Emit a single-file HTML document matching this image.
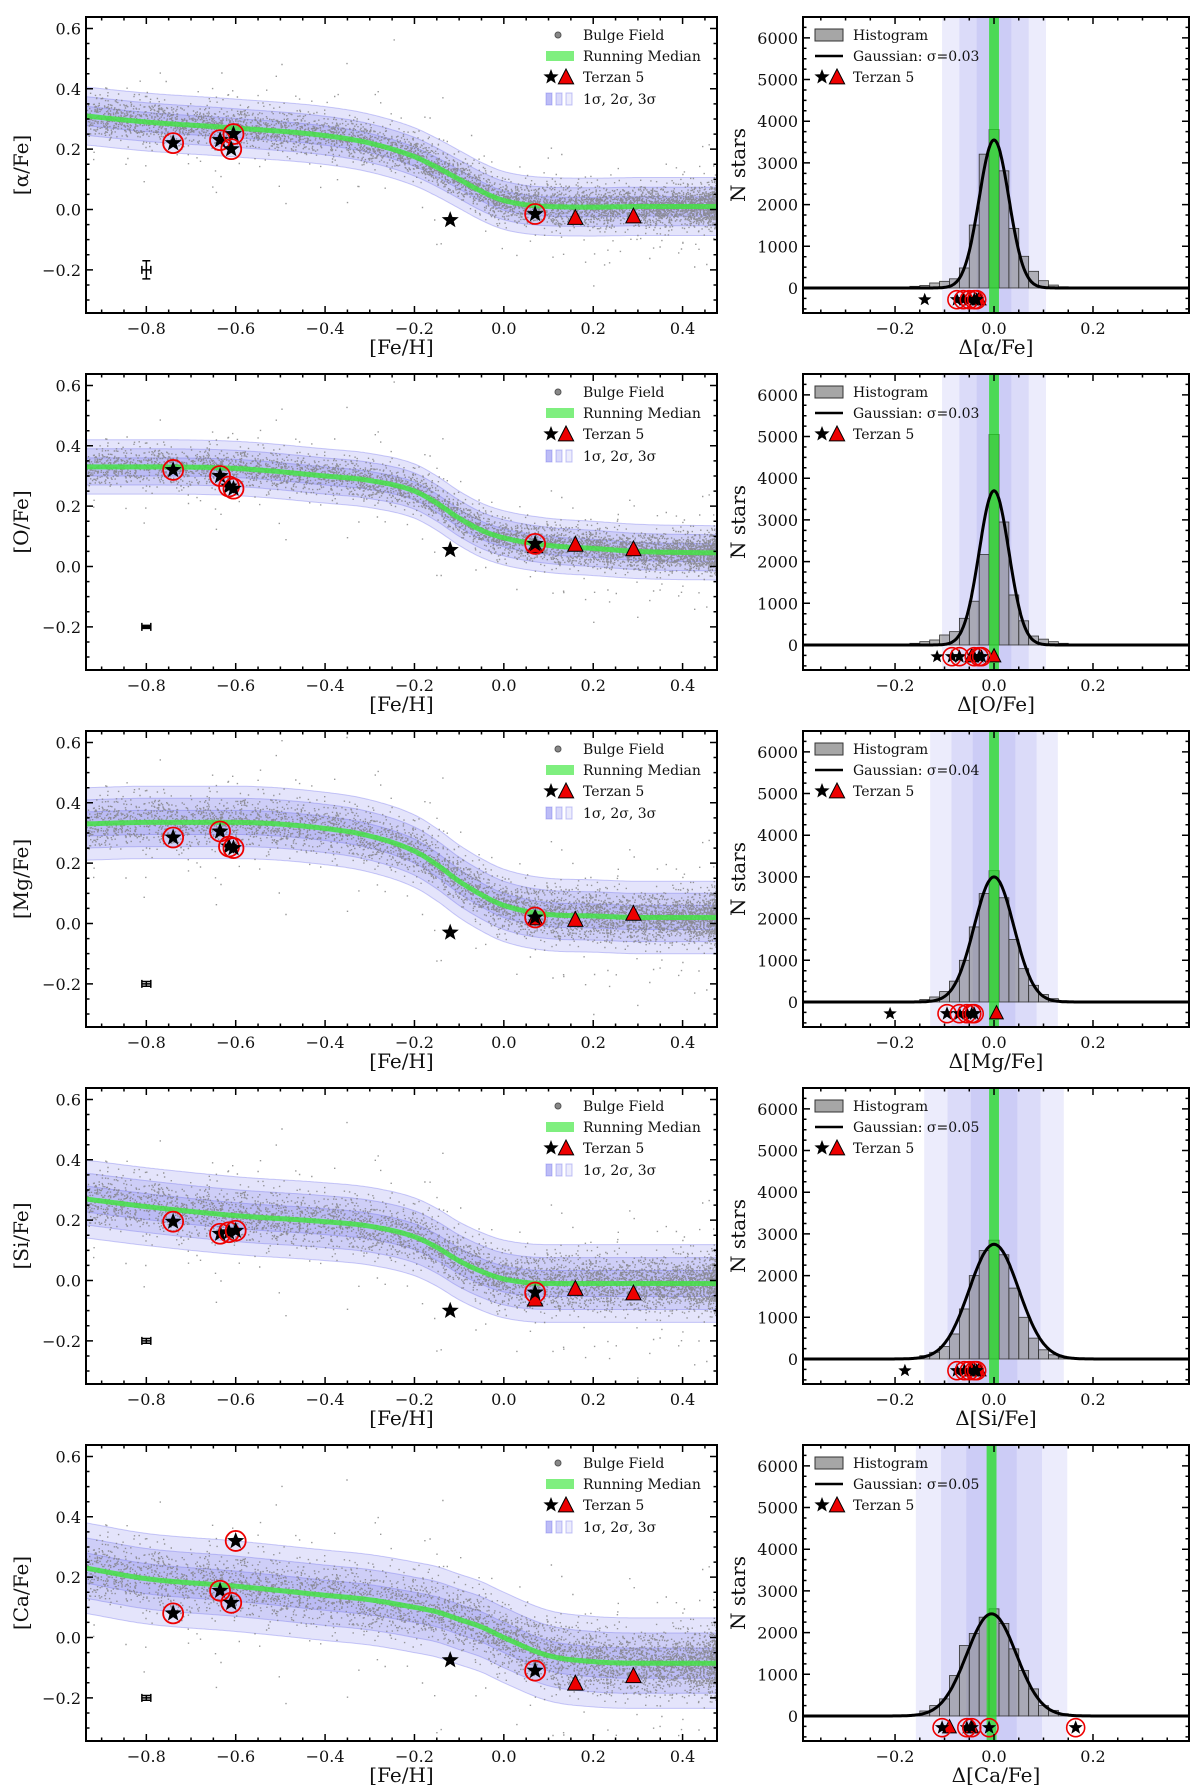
<!DOCTYPE html>
<html><head><meta charset="utf-8"><style>
html,body{margin:0;padding:0;background:#fff;}
svg{display:block;}
.tk{font-family:"DejaVu Serif","Liberation Serif",serif;font-size:16px;fill:#111;}
.lb{font-family:"DejaVu Serif","Liberation Serif",serif;font-size:20px;fill:#111;}
.lg{font-family:"DejaVu Serif","Liberation Serif",serif;font-size:14px;fill:#111;}
</style></head><body>
<svg id="fig" width="1200" height="1788" viewBox="0 0 1200 1788" xmlns="http://www.w3.org/2000/svg"></svg>
<script>
// ---- data ----
const elements = ["α","O","Mg","Si","Ca"];
const sigmaLabels = ["0.03","0.03","0.04","0.05","0.05"];
const medX = [-0.935,-0.8,-0.6,-0.4,-0.3,-0.2,-0.15,-0.1,-0.05,0,0.1,0.2,0.3,0.48];
const medAlpha = [0.31,0.29,0.27,0.245,0.22,0.175,0.14,0.10,0.06,0.03,0.01,0.008,0.01,0.01];
const medO = [0.33,0.33,0.325,0.30,0.285,0.25,0.21,0.16,0.12,0.095,0.07,0.06,0.05,0.045];
const medMg = [0.33,0.335,0.335,0.315,0.29,0.24,0.195,0.14,0.095,0.06,0.03,0.025,0.02,0.02];
const medSi = [0.27,0.245,0.215,0.195,0.18,0.145,0.11,0.065,0.03,0.005,-0.01,-0.01,-0.01,-0.01];
const medCa = [0.23,0.195,0.17,0.14,0.125,0.10,0.085,0.06,0.035,0.0,-0.06,-0.08,-0.085,-0.085];
const bandSig = [0.032,0.03,0.04,0.043,0.05];
const circStarsAlpha = [[-0.74,0.22],[-0.635,0.23],[-0.605,0.25],[-0.61,0.20],[0.07,-0.015]];
const circStarsO = [[-0.74,0.32],[-0.635,0.30],[-0.615,0.265],[-0.605,0.258],[0.07,0.075]];
const circStarsMg = [[-0.74,0.285],[-0.635,0.305],[-0.615,0.255],[-0.605,0.25],[0.07,0.02]];
const circStarsSi = [[-0.74,0.195],[-0.635,0.155],[-0.615,0.16],[-0.6,0.165],[0.07,-0.04]];
const circStarsCa = [[-0.74,0.08],[-0.635,0.155],[-0.61,0.115],[-0.6,0.32],[0.07,-0.11]];
const plainStar = [[-0.12,-0.035],[-0.12,0.055],[-0.12,-0.03],[-0.12,-0.1],[-0.12,-0.075]];
const trisAlpha = [[0.16,-0.03],[0.29,-0.025]];
const trisO = [[0.07,0.065],[0.16,0.07],[0.29,0.055]];
const trisMg = [[0.07,0.015],[0.16,0.01],[0.29,0.03]];
const trisSi = [[0.07,-0.065],[0.16,-0.03],[0.29,-0.045]];
const trisCa = [[0.16,-0.155],[0.29,-0.13]];
const errY = [0.03,0.005,0.008,0.008,0.008];
// histogram: bins centered -0.16..0.16 step 0.02
const histAlpha = [40,60,120,160,220,480,1510,3210,3800,2810,1430,760,400,175,70,30,10];
const histO = [40,80,120,240,320,640,1050,2170,5050,2950,1200,580,215,140,80,40,20];
const histMg = [20,60,120,250,500,1000,1800,2600,3150,2500,1500,800,400,180,80,30,10];
const histSi = [20,80,160,300,600,1200,2000,2600,2850,2500,1700,1000,500,220,100,40,15];
const histCa = [10,120,250,410,970,1690,1980,2370,2570,2220,1610,1090,650,250,135,55,10];
const gaussAmp = [3550,3700,3000,2750,2450];
const gaussSig = [0.03,0.03,0.04,0.05,0.05];
const gaussMu = [0,0,0,0,-0.005];
const bandR = [0.035,0.035,0.043,0.047,0.051];
const deltaCirc = [[-0.075,-0.062,-0.05,-0.04,-0.035],[-0.085,-0.07,-0.04,-0.03,-0.025],[-0.095,-0.07,-0.055,-0.045,-0.04],[-0.075,-0.06,-0.05,-0.04,-0.035],[-0.105,-0.055,-0.045,-0.01,0.165]];
const deltaStar = [-0.14,-0.115,-0.21,-0.18,null];
const deltaTri = [[-0.03],[-0.045,0.0],[0.005],[-0.03,-0.045],[-0.09,-0.045]];

const meds=[medAlpha,medO,medMg,medSi,medCa];
const circs=[circStarsAlpha,circStarsO,circStarsMg,circStarsSi,circStarsCa];
const tris=[trisAlpha,trisO,trisMg,trisSi,trisCa];
const hists=[histAlpha,histO,histMg,histSi,histCa];

const NS="http://www.w3.org/2000/svg";
const svg=document.getElementById('fig');
function mk(tag,attrs,parent){const e=document.createElementNS(NS,tag);for(const k in attrs)e.setAttribute(k,attrs[k]);(parent||svg).appendChild(e);return e;}
function interp(xs,ys,x){
  const n=xs.length;if(x<=xs[0])return ys[0];if(x>=xs[n-1])return ys[n-1];
  const d=[],m=[];for(let i=0;i<n-1;i++)d.push((ys[i+1]-ys[i])/(xs[i+1]-xs[i]));
  m[0]=d[0];m[n-1]=d[n-2];
  for(let i=1;i<n-1;i++){m[i]=(d[i-1]*d[i]<=0)?0:(d[i-1]+d[i])/2;}
  for(let i=0;i<n-1;i++){if(d[i]===0){m[i]=0;m[i+1]=0;continue;}const a=m[i]/d[i],b=m[i+1]/d[i],s=a*a+b*b;if(s>9){const t=3/Math.sqrt(s);m[i]=t*a*d[i];m[i+1]=t*b*d[i];}}
  let k=0;while(x>xs[k+1])k++;
  const h=xs[k+1]-xs[k],t=(x-xs[k])/h;
  const h00=2*t*t*t-3*t*t+1,h10=t*t*t-2*t*t+t,h01=-2*t*t*t+3*t*t,h11=t*t*t-t*t;
  return h00*ys[k]+h10*h*m[k]+h01*ys[k+1]+h11*h*m[k+1];
}
function starPath(cx,cy,r){let d="";for(let i=0;i<10;i++){const a=-Math.PI/2+i*Math.PI/5;const rr=i%2?r*0.42:r;d+=(i?"L":"M")+(cx+rr*Math.cos(a)).toFixed(1)+","+(cy+rr*Math.sin(a)).toFixed(1);}return d+"Z";}
function triPath(cx,cy,r){return `M${cx},${cy-r}L${cx+r*0.85},${cy+r*0.65}L${cx-r*0.85},${cy+r*0.65}Z`;}
let seed=12345;function rnd(){seed=(seed*1103515245+12345)%2147483648;return seed/2147483648;}
function gn(){return Math.sqrt(-2*Math.log(rnd()+1e-9))*Math.cos(2*Math.PI*rnd());}

const rowTop=[17,374,731,1088,1445], H=296;
const L={x0:86,x1:717,xmin:-0.935,xmax:0.477,ymin:-0.343,ymax:0.638};
const R={x0:803,x1:1189,xmin:-0.386,xmax:0.394,ymin:-600,ymax:6500};

function ticks(g,ax,top,majX,minX,majY,minY,fmtX,fmtY){
  const sx=v=>ax.x0+(v-ax.xmin)/(ax.xmax-ax.xmin)*(ax.x1-ax.x0);
  const sy=v=>top+H-(v-ax.ymin)/(ax.ymax-ax.ymin)*H;
  let d="";
  majX.forEach(v=>{const x=sx(v);d+=`M${x},${top+H}v-7M${x},${top}v7`;const t=mk('text',{x:x,y:top+H+21,'text-anchor':'middle',class:'tk'},g);t.textContent=fmtX(v);});
  minX.forEach(v=>{const x=sx(v);d+=`M${x},${top+H}v-3.5M${x},${top}v3.5`;});
  majY.forEach(v=>{const y=sy(v);d+=`M${ax.x0},${y}h7M${ax.x1},${y}h-7`;const t=mk('text',{x:ax.x0-5,y:y+6,'text-anchor':'end',class:'tk'},g);t.textContent=fmtY(v);});
  minY.forEach(v=>{const y=sy(v);d+=`M${ax.x0},${y}h3.5M${ax.x1},${y}h-3.5`;});
  mk('path',{d:d,stroke:'#000','stroke-width':1.5,fill:'none'},g);
  mk('rect',{x:ax.x0,y:top,width:ax.x1-ax.x0,height:H,fill:'none',stroke:'#000','stroke-width':2},g);
}
const mm=s=>s.replace('-','\u2212');
function range(a,b,s){const r=[];for(let v=a;v<=b+1e-9;v+=s)r.push(Math.round(v*1e4)/1e4);return r;}

elements.forEach((el,p)=>{
  const top=rowTop[p];
  // ---------- left ----------
  const g=mk('g',{});
  const sx=v=>L.x0+(v-L.xmin)/(L.xmax-L.xmin)*(L.x1-L.x0);
  const sy=v=>top+H-(v-L.ymin)/(L.ymax-L.ymin)*H;
  const cid='clipL'+p;const cp=mk('clipPath',{id:cid},g);mk('rect',{x:L.x0,y:top,width:L.x1-L.x0,height:H},cp);
  const inner=mk('g',{'clip-path':`url(#${cid})`},g);
  const med=meds[p],sg=bandSig[p];
  const xs=[];for(let x=L.xmin;x<=L.xmax+0.01;x+=0.005)xs.push(x);
  [3,2,1].forEach(k=>{
    let d="";xs.forEach((x,i)=>{d+=(i?"L":"M")+sx(x).toFixed(1)+","+sy(interp(medX,med,x)+k*sg).toFixed(1);});
    for(let i=xs.length-1;i>=0;i--){d+="L"+sx(xs[i]).toFixed(1)+","+sy(interp(medX,med,xs[i])-k*sg).toFixed(1);}
    const b=mk('path',{d:d+"Z",fill:'#6b6bea','fill-opacity':0.18,stroke:'#6b6bea','stroke-opacity':0.35,'stroke-width':1},inner);
    
  });
  let pd="";
  for(let i=0;i<6000;i++){let u=rnd();const x=L.xmin+(1-Math.pow(u,1.5))*(L.xmax-L.xmin);
    const y=interp(medX,med,x)+gn()*sg*(rnd()<0.05?3:1.0);
    pd+=`M${sx(x).toFixed(1)},${sy(y).toFixed(1)}h1.4`;}
  const sc=mk('path',{d:pd,stroke:'#808080','stroke-width':1.4,'stroke-opacity':0.8},inner);
  
  let md="";xs.forEach((x,i)=>{md+=(i?"L":"M")+sx(x).toFixed(1)+","+sy(interp(medX,med,x)).toFixed(1);});
  const ml=mk('path',{d:md,stroke:'#44e044','stroke-width':5,fill:'none','stroke-opacity':0.85},inner);
  
  const ex=sx(-0.8),ey=sy(-0.2),ew=sx(-0.79)-ex,eh=sy(-0.2-errY[p])-ey;
  const eb=mk('path',{d:`M${ex-ew},${ey}h${2*ew}M${ex},${ey-eh}v${2*eh}M${ex-ew},${ey-4}v8M${ex+ew},${ey-4}v8M${ex-4},${ey-eh}h8M${ex-4},${ey+eh}h8`,stroke:'#000','stroke-width':1.5,fill:'none'},inner);
  
  tris[p].forEach(([x,y])=>{const t=mk('path',{d:triPath(sx(x),sy(y),9),fill:'#e00',stroke:'#000','stroke-width':1},inner);});
  circs[p].forEach(([x,y])=>{const c=mk('circle',{cx:sx(x),cy:sy(y),r:10,fill:'none',stroke:'#e00','stroke-width':1.8},inner);
    const s=mk('path',{d:starPath(sx(x),sy(y),9),fill:'#000'},inner);});
  {const [x,y]=plainStar[p];const s=mk('path',{d:starPath(sx(x),sy(y),9),fill:'#000'},inner);}
  ticks(g,L,top,range(-0.8,0.4,0.2),range(-0.9,0.45,0.05),range(-0.2,0.6,0.2),range(-0.3,0.6,0.05),v=>mm(v.toFixed(1)),v=>mm(v.toFixed(1)));
  let t=mk('text',{x:(L.x0+L.x1)/2,y:top+H+41,'text-anchor':'middle',class:'lb'},g);t.textContent='[Fe/H]';
  t=mk('text',{x:0,y:0,'text-anchor':'middle',class:'lb',transform:`translate(28,${top+H/2}) rotate(-90)`},g);t.textContent=`[${el}/Fe]`;
  const lg=mk('g',{});
  const ly=[top+18,top+39,top+60,top+82];
  mk('circle',{cx:558,cy:ly[0],r:3,fill:'#888',stroke:'#555'},lg);
  mk('rect',{x:546,y:ly[1]-5,width:28,height:10,fill:'#7fef7f'},lg);
  mk('path',{d:starPath(551,ly[2],8),fill:'#000'},lg);mk('path',{d:triPath(566,ly[2]+1,9),fill:'#e00',stroke:'#000','stroke-width':1},lg);
  [546,556,566].forEach((x,i)=>mk('rect',{x:x,y:ly[3]-6,width:6,height:12,fill:'#6b6bea','fill-opacity':[0.45,0.25,0.12][i],stroke:'#6b6bea','stroke-opacity':0.4},lg));
  ['Bulge Field','Running Median','Terzan 5','1σ, 2σ, 3σ'].forEach((s,i)=>{const tt=mk('text',{x:583,y:ly[i]+5,class:'lg'},lg);tt.textContent=s;});

  // ---------- right ----------
  const h=mk('g',{});
  const rx=v=>R.x0+(v-R.xmin)/(R.xmax-R.xmin)*(R.x1-R.x0);
  const ry=v=>top+H-(v-R.ymin)/(R.ymax-R.ymin)*H;
  const cr='clipR'+p;const cp2=mk('clipPath',{id:cr},h);mk('rect',{x:R.x0,y:top,width:R.x1-R.x0,height:H},cp2);
  const hi=mk('g',{'clip-path':`url(#${cr})`},h);
  const mu=gaussMu[p],gs=gaussSig[p],bs=bandR[p];
  [3,2,1].forEach(k=>{const b=mk('rect',{x:rx(mu-k*bs),y:top,width:rx(mu+k*bs)-rx(mu-k*bs),height:H,fill:'#6b6bea','fill-opacity':0.13},hi);});
  hists[p].forEach((v,i)=>{if(!v)return;const c=-0.16+i*0.02;const b=mk('rect',{x:rx(c-0.01),y:ry(v),width:rx(c+0.01)-rx(c-0.01),height:ry(0)-ry(v),fill:'#808080','fill-opacity':0.55,stroke:'#333','stroke-width':0.8},hi);});
  const gl=mk('rect',{x:rx(mu-0.01),y:top,width:rx(0.01)-rx(-0.01),height:H,fill:'#22dd22','fill-opacity':0.75},hi);
  let gd="";for(let x=R.xmin;x<=R.xmax;x+=0.002){gd+=(x===R.xmin?"M":"L")+rx(x).toFixed(1)+","+ry(gaussAmp[p]*Math.exp(-0.5*((x-mu)/gs)**2)).toFixed(1);}
  const gc=mk('path',{d:gd,stroke:'#000','stroke-width':3,fill:'none'},hi);
  const yy=ry(-280);
  deltaTri[p].forEach(x=>{const t=mk('path',{d:triPath(rx(x),yy,8),fill:'#e00',stroke:'#000','stroke-width':1},hi);});
  deltaCirc[p].forEach(x=>{const c=mk('circle',{cx:rx(x),cy:yy,r:9,fill:'none',stroke:'#e00','stroke-width':1.6},hi);mk('path',{d:starPath(rx(x),yy,7.5),fill:'#000'},hi);});
  if(deltaStar[p]!==null){const s=mk('path',{d:starPath(rx(deltaStar[p]),yy,7),fill:'#000'},hi);}
  ticks(h,R,top,[-0.2,0,0.2],range(-0.35,0.35,0.05),range(0,6000,1000),range(-500,6500,250),v=>mm(v.toFixed(1)),v=>String(v));
  t=mk('text',{x:(R.x0+R.x1)/2,y:top+H+41,'text-anchor':'middle',class:'lb'},h);t.textContent=`Δ[${el}/Fe]`;
  t=mk('text',{x:0,y:0,'text-anchor':'middle',class:'lb',transform:`translate(745,${top+H/2}) rotate(-90)`},h);t.textContent='N stars';
  const rg=mk('g',{});
  mk('rect',{x:815,y:ly[0]-6,width:28,height:12,fill:'#808080','fill-opacity':0.7,stroke:'#333'},rg);
  mk('line',{x1:815,x2:843,y1:ly[1],y2:ly[1],stroke:'#000','stroke-width':2.5},rg);
  mk('path',{d:starPath(822,ly[2],8),fill:'#000'},rg);mk('path',{d:triPath(837,ly[2]+1,9),fill:'#e00',stroke:'#000','stroke-width':1},rg);
  ['Histogram','Gaussian: σ='+sigmaLabels[p],'Terzan 5'].forEach((s,i)=>{const tt=mk('text',{x:853,y:ly[i]+5,class:'lg'},rg);tt.textContent=s;});
});
</script>
</body></html>
